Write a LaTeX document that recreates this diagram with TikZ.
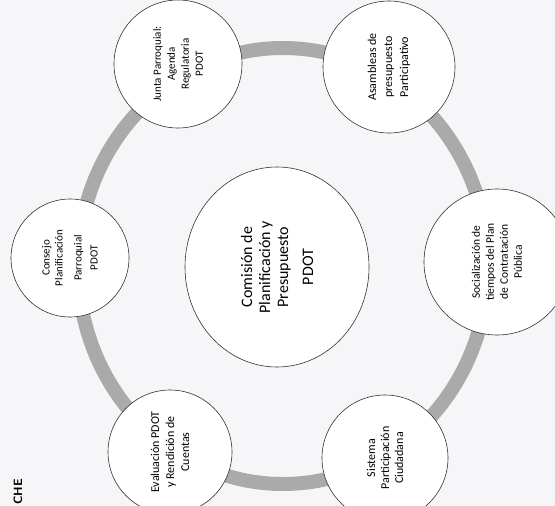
\documentclass[tikz,border=0pt]{standalone}
\usepackage{fontspec}
\setmainfont{Carlito}
\usetikzlibrary{shapes.geometric}
\definecolor{ringgray}{RGB}{170,170,170}
\definecolor{paper}{RGB}{246,246,248}

\begin{document}
\begin{tikzpicture}[x=1pt, y=-1pt, line width=0.6pt]
\tikzset{
  stage/.style={draw=black!80, circle, fill=white, align=center, rotate=90, inner sep=0pt},
  core/.style={draw=black!80, ellipse, fill=white, align=center, rotate=90, inner sep=0pt, font=\fontsize{16}{18}\selectfont}
}
\fill[paper] (0,0) rectangle (555,506);
\useasboundingbox (0,0) rectangle (555,506);

% ring behind the stages
\draw[ringgray, line width=14pt] (283,266) ellipse [x radius=205, y radius=218];

\node[core, minimum width=200pt, minimum height=184pt] (com) at (277,267) {Comisión de\\Planificación y\\Presupuesto\\[7pt]PDOT};

\node[stage, minimum size=128pt, font=\fontsize{11}{14}\selectfont] (jun) at (178,64) {Junta Parroquial:\\Agenda\\Regulatoria\\PDOT};
\node[stage, minimum size=132pt, font=\fontsize{12}{16}\selectfont] (asa) at (389,67) {Asambleas de\\presupuesto\\Participativo};
\node[stage, minimum size=118pt, font=\fontsize{11}{13}\selectfont] (con) at (70,258) {Consejo\\Planificación\\[6pt]Parroquial\\[3pt]PDOT};
\node[stage, minimum size=146pt, font=\fontsize{11.5}{14}\selectfont] (soc) at (497,262) {Socialización de\\tiempos del Plan\\de Contratación\\Pública};
\node[stage, minimum size=124pt, font=\fontsize{12}{15}\selectfont] (eva) at (170,452) {Evaluación PDOT\\y Rendición de\\Cuentas};
\node[stage, minimum size=126pt, font=\fontsize{12}{14}\selectfont] (sis) at (385,458) {Sistema\\Participación\\Ciudadana};

\node[rotate=90, anchor=west, font=\sffamily\bfseries\fontsize{12}{14}\selectfont, inner sep=0pt] (che) at (18,505) {CHE};
\end{tikzpicture}
\end{document}
